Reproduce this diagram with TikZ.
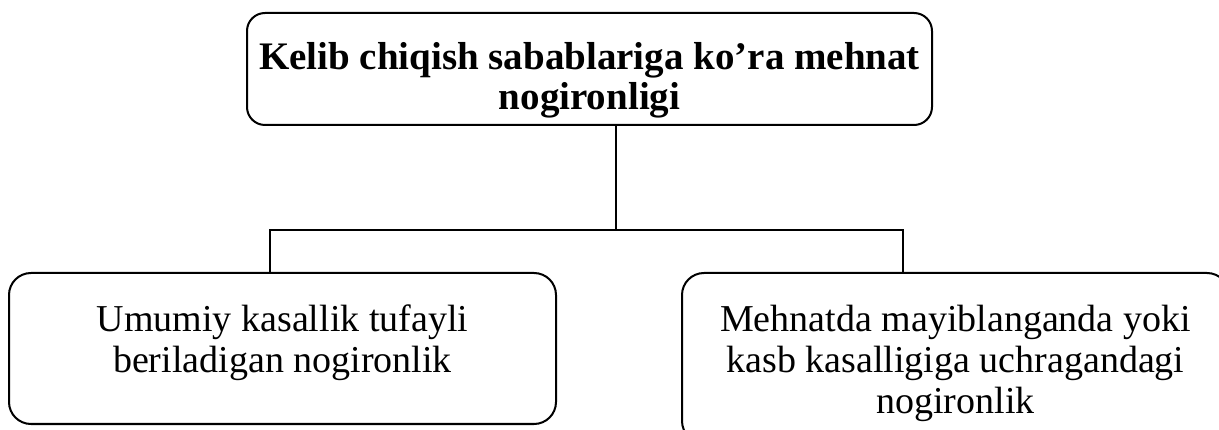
\documentclass[tikz,border=0pt]{standalone}
\usepackage{fontspec}
\setmainfont{Liberation Serif}
\usetikzlibrary{positioning}

\begin{document}
\begin{tikzpicture}
	[x=1pt,y=-1pt,line width=2pt,
	box/.style={draw,rounded corners=22pt,inner sep=0pt},
	txt/.style={align=center,inner sep=0pt,
		font=\fontsize{38}{41}\selectfont}]
	\useasboundingbox (0,0) rectangle (1219,430);
	\node[box,rounded corners=18pt,minimum width=685pt,minimum height=112pt] (top) at (589.5,69) {};
	\node[box,minimum width=547pt,minimum height=151pt] (left) at (282.5,348.5) {};
	\node[box,minimum width=547pt,minimum height=170pt] (right) at (955.5,358) {};
	
	\node[txt,below=29pt of top.north,font=\fontsize{39}{40}\selectfont\bfseries] (toptxt)
	{Kelib chiqish sabablariga ko’ra mehnat\\nogironligi};
	\node[txt,below=32pt of left.north] (lefttxt)
	{Umumiy kasallik tufayli\\beriladigan nogironlik};
	\node[txt,below=32pt of right.north] (righttxt)
	{Mehnatda mayiblanganda yoki\\kasb kasalligiga uchragandagi\\nogironlik};
	
	\coordinate (mid) at (616,230);
	\coordinate (ml) at (270,230);
	\coordinate (mr) at (903,230);
	\draw (top.south -| mid) -- (mid);
	\draw (left.north -| ml) -- (ml) -- (mr) -- (right.north -| mr);
\end{tikzpicture}
\end{document}
